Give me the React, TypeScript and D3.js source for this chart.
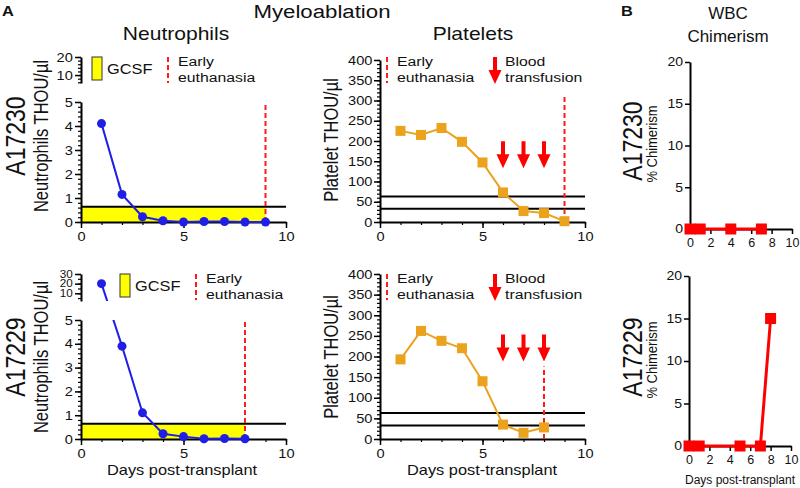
import React, { useRef, useEffect } from 'react';
import * as d3 from 'd3';

const FONT = "'Liberation Sans', Arial, Helvetica, sans-serif";
// the source figure is slightly wider than tall, so horizontal text is stretched
const SX = 1.17;

// neutrophils (THOU/µl) by day post-transplant
const daysA17230 = [1, 2, 3, 4, 5, 6, 7, 8, 9];
const neutA17230 = [4.1, 1.15, 0.22, 0.05, 0.0, 0.02, 0.02, 0.0, 0.0];
const daysA17229 = [1, 2, 3, 4, 5, 6, 7, 8];
const neutA17229 = [20, 3.9, 1.1, 0.22, 0.1, 0.01, 0.02, 0.01];

// platelets (THOU/µl)
const pltA17230 = [225, 215, 232, 198, 147, 73, 27, 22, 2];
const pltA17229 = [193, 262, 238, 220, 140, 35, 15, 28];

const transfusionDays = [6, 7, 8];
const arrowTipA17230 = 133;
const arrowTipA17229 = 188;
const euthDayA17230 = 9;
const euthDayA17229 = 8;
const pltDashTopA17230 = 313;
const pltDashTopA17229 = 176;
const gcsfLevel = 0.64;
const plateletLines = [63, 33];

// WBC chimerism (%)
const chimDaysA17230 = [0, 1, 4, 7];
const chimA17230 = [0, 0, 0, 0];
const chimDaysA17229 = [0, 1, 5, 7, 8];
const chimA17229 = [0, 0, 0, 0, 15];

const BLUE = '#1f1fe6';
const ORANGE = '#eba21c';
const RED = '#ff1a1a';

const fmt = (d) => String(d);

function styleAxis(sel, size = 12.5, sx = SX) {
  sel.selectAll('path.domain').attr('stroke', '#000').attr('stroke-width', 2);
  sel.selectAll('.tick line').attr('stroke', '#000').attr('stroke-width', 1.5);
  sel
    .selectAll('.tick text')
    .attr('font-family', FONT)
    .attr('font-size', size)
    .attr('fill', '#111')
    .attr('transform', `scale(${sx},1)`);
}

function minorAxis(g, axis) {
  const m = g.append('g').call(axis.tickFormat(() => ''));
  m.select('path.domain').remove();
  m.selectAll('.tick line').attr('stroke', '#000').attr('stroke-width', 1.2);
  return m;
}

function text(g, x, y, s, size, opts = {}) {
  const sx = opts.sx || SX;
  const t = g
    .append('text')
    .attr('transform', `translate(${x},${y}) scale(${sx},1)`)
    .attr('font-family', FONT)
    .attr('font-size', size)
    .attr('fill', opts.fill || '#111')
    .attr('text-anchor', opts.anchor || 'start')
    .text(s);
  if (opts.bold) t.attr('font-weight', 'bold');
  return t;
}

function vtext(g, x, y, s, size) {
  g.append('text')
    .attr('transform', `translate(${x},${y}) scale(${SX},1) rotate(-90)`)
    .attr('font-family', FONT)
    .attr('font-size', size)
    .attr('fill', '#111')
    .attr('text-anchor', 'middle')
    .text(s);
}

function arrow(g, x, tip) {
  g.append('path')
    .attr(
      'd',
      `M${x - 2},${tip - 27}L${x + 2},${tip - 27}L${x + 2},${tip - 14}L${x + 6.5},${tip - 14}L${x},${tip}L${x - 6.5},${tip - 14}L${x - 2},${tip - 14}Z`
    )
    .attr('fill', '#ff0000');
}

function xAxis(g, x, y0, major, minor, size, tick = 6, sx = SX) {
  const a = g.append('g').attr('transform', `translate(0,${y0})`);
  a.call(d3.axisBottom(x).tickValues(major).tickSize(tick).tickSizeOuter(0).tickPadding(4).tickFormat(fmt));
  styleAxis(a, size, sx);
  if (minor) minorAxis(a, d3.axisBottom(x).tickValues(minor).tickSize(3));
}

function neutPanel(svg, o) {
  const g = svg.append('g');
  const x = d3.scaleLinear().domain([0, 10]).range(o.xRange);
  const yLow = d3.scaleLinear().domain([0, 5]).range(o.lowRange);
  const yUp = d3.scaleLinear().domain(o.upDomain).range(o.upRange);
  const yy = (v) => (v > 5 ? yUp(v) : yLow(v));

  g.append('rect')
    .attr('x', x(0))
    .attr('y', yLow(gcsfLevel))
    .attr('width', x(o.euth) - x(0))
    .attr('height', yLow(0) - yLow(gcsfLevel))
    .attr('fill', '#ffff00');
  g.append('line')
    .attr('x1', x(0))
    .attr('x2', x(10))
    .attr('y1', yLow(gcsfLevel))
    .attr('y2', yLow(gcsfLevel))
    .attr('stroke', '#000')
    .attr('stroke-width', 2);

  // lower y axis
  const ay = g.append('g').attr('transform', `translate(${x(0)},0)`);
  ay.call(d3.axisLeft(yLow).tickValues([0, 1, 2, 3, 4, 5]).tickSize(6).tickSizeOuter(0).tickPadding(1).tickFormat(fmt));
  styleAxis(ay);
  minorAxis(ay, d3.axisLeft(yLow).tickValues(d3.range(0, 5.01, 0.2)).tickSize(3));

  // upper (broken) y axis
  const au = g.append('g').attr('transform', `translate(${x(0)},0)`);
  au.call(d3.axisLeft(yUp).tickValues(o.upTicks).tickSize(6).tickSizeOuter(0).tickPadding(1).tickFormat(fmt));
  styleAxis(au, o.upFont);
  minorAxis(au, d3.axisLeft(yUp).tickValues(o.upMinor).tickSize(3));

  xAxis(g, x, yLow(0), [0, 5, 10], d3.range(0, 11), 12.5);

  // euthanasia
  g.append('line')
    .attr('x1', x(o.euth))
    .attr('x2', x(o.euth))
    .attr('y1', yLow(0))
    .attr('y2', yLow(5))
    .attr('stroke', RED)
    .attr('stroke-width', 2)
    .attr('stroke-dasharray', '5,3');

  const cid = 'clip' + o.id;
  const cp = svg.append('clipPath').attr('id', cid);
  cp.append('rect').attr('x', 0).attr('y', yLow(5)).attr('width', 800).attr('height', yLow(0) - yLow(5) + 10);
  cp.append('rect').attr('x', 0).attr('y', o.upRange[1] - 10).attr('width', 800).attr('height', o.upRange[0] - o.upRange[1] + 10);

  const line = d3
    .line()
    .x((d) => x(d[0]))
    .y((d) => yy(d[1]));
  const pts = o.days.map((d, i) => [d, o.vals[i]]);
  g.append('path')
    .attr('d', line(pts))
    .attr('fill', 'none')
    .attr('stroke', BLUE)
    .attr('stroke-width', 2)
    .attr('clip-path', `url(#${cid})`);
  g.selectAll('circle.pt')
    .data(pts)
    .enter()
    .append('circle')
    .attr('cx', (d) => x(d[0]))
    .attr('cy', (d) => yy(d[1]))
    .attr('r', 4.5)
    .attr('fill', BLUE);

  // legend
  const ly = o.legendY;
  g.append('rect')
    .attr('x', o.legendX)
    .attr('y', ly)
    .attr('width', 10)
    .attr('height', 23)
    .attr('fill', '#ffff00')
    .attr('stroke', '#333')
    .attr('stroke-width', 1);
  text(g, o.legendX + 15, ly + 17, 'GCSF', 14);
  g.append('line')
    .attr('x1', o.legendX + 76)
    .attr('x2', o.legendX + 76)
    .attr('y1', ly)
    .attr('y2', ly + 26)
    .attr('stroke', RED)
    .attr('stroke-width', 2)
    .attr('stroke-dasharray', '5,3');
  text(g, o.legendX + 86, ly + 9, 'Early', 13.5);
  text(g, o.legendX + 86, ly + 25, 'euthanasia', 13.5);

  vtext(g, 25, o.labelY, o.animal, 23);
  vtext(g, 48, o.labelY, 'Neutrophils THOU/µl', 16.5);
}

function pltPanel(svg, o) {
  const g = svg.append('g');
  const x = d3.scaleLinear().domain([0, 10]).range(o.xRange);
  const y = d3.scaleLinear().domain([0, 400]).range(o.yRange);

  plateletLines.forEach((v) => {
    g.append('line')
      .attr('x1', x(0))
      .attr('x2', x(10))
      .attr('y1', y(v))
      .attr('y2', y(v))
      .attr('stroke', '#000')
      .attr('stroke-width', 2);
  });

  const ay = g.append('g').attr('transform', `translate(${x(0)},0)`);
  ay.call(d3.axisLeft(y).tickValues(d3.range(0, 401, 50)).tickSize(6).tickSizeOuter(0).tickPadding(0.5).tickFormat(fmt));
  styleAxis(ay);
  minorAxis(ay, d3.axisLeft(y).tickValues(d3.range(0, 401, 10)).tickSize(3));
  xAxis(g, x, y(0), [0, 5, 10], d3.range(0, 11), 12.5);

  g.append('line')
    .attr('x1', x(o.euth))
    .attr('x2', x(o.euth))
    .attr('y1', y(0))
    .attr('y2', y(o.dashTop))
    .attr('stroke', RED)
    .attr('stroke-width', 2)
    .attr('stroke-dasharray', '5,3');

  const pts = o.vals.map((v, i) => [i + 1, v]);
  const line = d3
    .line()
    .x((d) => x(d[0]))
    .y((d) => y(d[1]));
  g.append('path')
    .attr('d', line(pts))
    .attr('fill', 'none')
    .attr('stroke', ORANGE)
    .attr('stroke-width', 2);
  g.selectAll('rect.pt')
    .data(pts)
    .enter()
    .append('rect')
    .attr('x', (d) => x(d[0]) - 5)
    .attr('y', (d) => y(d[1]) - 5)
    .attr('width', 10)
    .attr('height', 10)
    .attr('fill', ORANGE);

  transfusionDays.forEach((d) => arrow(g, x(d), y(o.arrowTip)));

  // legend
  const ly = o.legendY;
  g.append('line')
    .attr('x1', 387)
    .attr('x2', 387)
    .attr('y1', ly)
    .attr('y2', ly + 26)
    .attr('stroke', RED)
    .attr('stroke-width', 2)
    .attr('stroke-dasharray', '5,3');
  text(g, 397, ly + 9, 'Early', 13.5);
  text(g, 397, ly + 25, 'euthanasia', 13.5);
  arrow(g, 495, ly + 27);
  text(g, 505, ly + 9, 'Blood', 13.5);
  text(g, 505, ly + 25, 'transfusion', 13.5);

  vtext(g, 338, o.labelY, 'Platelet THOU/µl', 16.5);
}

function chimPanel(svg, o) {
  const g = svg.append('g');
  const x = d3.scaleLinear().domain([0, 10]).range(o.xRange);
  const y = d3.scaleLinear().domain([0, 20]).range(o.yRange);

  const ay = g.append('g').attr('transform', `translate(${x(0)},0)`);
  ay.call(d3.axisLeft(y).tickValues([0, 5, 10, 15, 20]).tickSize(5).tickSizeOuter(0).tickPadding(1).tickFormat(fmt));
  styleAxis(ay, 12);
  xAxis(g, x, y(0), [0, 2, 4, 6, 8, 10], null, 12.5, 5, 1.0);

  const pts = o.days.map((d, i) => [d, o.vals[i]]);
  const line = d3
    .line()
    .x((d) => x(d[0]))
    .y((d) => y(d[1]));
  g.append('path')
    .attr('d', line(pts))
    .attr('fill', 'none')
    .attr('stroke', '#ff0000')
    .attr('stroke-width', 3);
  g.selectAll('rect.pt')
    .data(pts)
    .enter()
    .append('rect')
    .attr('x', (d) => x(d[0]) - 5.5)
    .attr('y', (d) => y(d[1]) - 5.5)
    .attr('width', 11)
    .attr('height', 11)
    .attr('fill', '#ff0000');

  vtext(g, 642, o.labelY, o.animal, 23);
  vtext(g, 657, o.labelY + 3, '% Chimerism', 13);
}

export default function App() {
  const ref = useRef(null);

  useEffect(() => {
    const svg = d3.select(ref.current);
    svg.selectAll('*').remove();

    text(svg, 2, 16, 'A', 14, { bold: true });
    text(svg, 621, 16, 'B', 14, { bold: true });
    text(svg, 322, 18, 'Myeloablation', 19, { anchor: 'middle' });
    text(svg, 176, 40, 'Neutrophils', 18, { anchor: 'middle' });
    text(svg, 473, 40, 'Platelets', 18, { anchor: 'middle' });
    text(svg, 728, 19, 'WBC', 17, { anchor: 'middle', sx: 1.0 });
    text(svg, 728, 42, 'Chimerism', 17, { anchor: 'middle', sx: 1.0 });

    neutPanel(svg, {
      id: 'a17230',
      animal: 'A17230',
      xRange: [81, 286],
      lowRange: [222, 102],
      upDomain: [5.6, 20],
      upRange: [83, 57],
      upTicks: [10, 20],
      upMinor: d3.range(6, 21, 2),
      upFont: 12.5,
      days: daysA17230,
      vals: neutA17230,
      euth: euthDayA17230,
      legendX: 92,
      legendY: 57,
      labelY: 136,
    });
    neutPanel(svg, {
      id: 'a17229',
      animal: 'A17229',
      xRange: [81, 286],
      lowRange: [439, 320],
      upDomain: [2, 30],
      upRange: [301, 274],
      upTicks: [10, 20, 30],
      upMinor: d3.range(5, 31, 5),
      upFont: 10,
      days: daysA17229,
      vals: neutA17229,
      euth: euthDayA17229,
      legendX: 120,
      legendY: 274,
      labelY: 357,
    });

    pltPanel(svg, {
      xRange: [380, 585],
      yRange: [222, 60],
      vals: pltA17230,
      euth: euthDayA17230,
      dashTop: pltDashTopA17230,
      arrowTip: arrowTipA17230,
      legendY: 57,
      labelY: 140,
    });
    pltPanel(svg, {
      xRange: [380, 585],
      yRange: [439, 274],
      vals: pltA17229,
      euth: euthDayA17229,
      dashTop: pltDashTopA17229,
      arrowTip: arrowTipA17229,
      legendY: 274,
      labelY: 357,
    });
    text(svg, 182, 475, 'Days post-transplant', 14, { anchor: 'middle' });
    text(svg, 482, 475, 'Days post-transplant', 14, { anchor: 'middle' });

    chimPanel(svg, {
      xRange: [690, 792],
      yRange: [229, 62],
      days: chimDaysA17230,
      vals: chimA17230,
      animal: 'A17230',
      labelY: 141,
    });
    chimPanel(svg, {
      xRange: [689, 791],
      yRange: [446, 276],
      days: chimDaysA17229,
      vals: chimA17229,
      animal: 'A17229',
      labelY: 357,
    });
    text(svg, 740, 484, 'Days post-transplant', 12, { anchor: 'middle', sx: 1.0 });
  }, []);

  return (
    <svg
      ref={ref}
      width={800}
      height={488}
      style={{ position: 'absolute', left: 0, top: 0, background: '#fff' }}
    ></svg>
  );
}
